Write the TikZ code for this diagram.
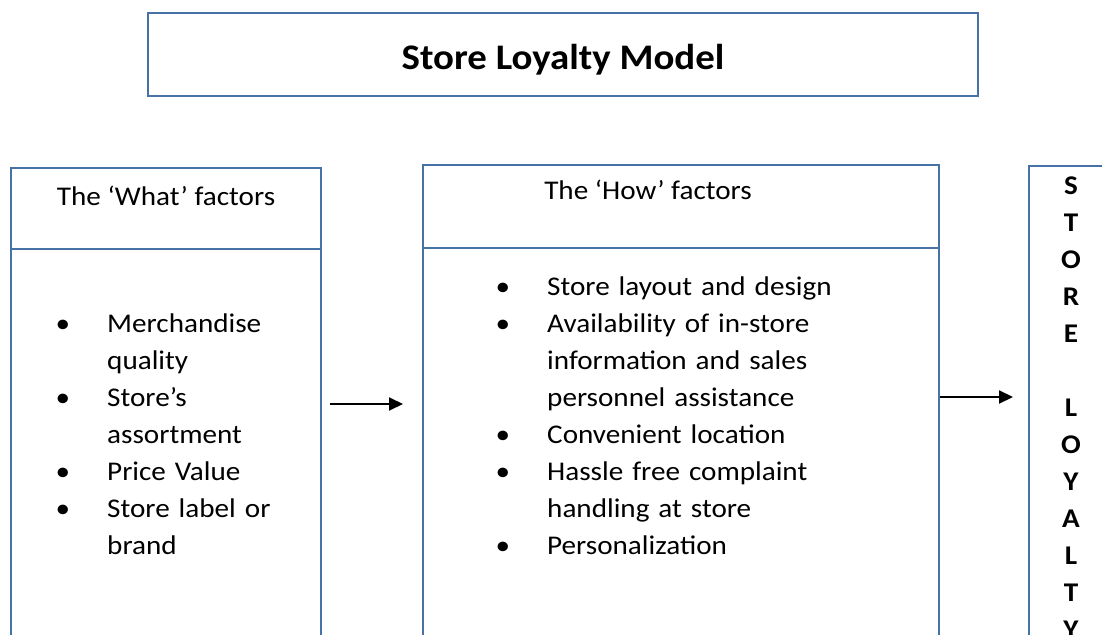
\documentclass[tikz,border=0pt]{standalone}
\usepackage{fontspec}
\setmainfont[FakeStretch=1.08]{Carlito}
\usepackage{enumitem}
\usetikzlibrary{positioning, arrows.meta}

\definecolor{boxblue}{RGB}{70,114,168}

% bullet lists inside the factor boxes
\setlist[itemize]{label=\textbullet, leftmargin=57pt, labelwidth=13pt, labelsep=37pt,
  topsep=0pt, itemsep=0pt, parsep=0pt, partopsep=0pt}

\tikzset{
  box/.style={draw=boxblue, line width=2pt, inner sep=0pt, anchor=north west},
  flow/.style={-{Triangle[length=14pt,width=13pt]}, line width=2pt},
  body/.style={font=\fontsize{27}{37}\selectfont, inner sep=0pt},
}

\begin{document}
\begin{tikzpicture}[x=1pt, y=-1pt]
  \useasboundingbox (0,0) rectangle (1102,634);
  \clip (0,0) rectangle (1102,634);

  % heading
  \node[box, minimum width=830pt, minimum height=83pt] (title) at (147,12) {};
  \node[font=\fontsize{36}{42}\selectfont\bfseries, anchor=base, inner sep=0pt]
    (titletext) at ([yshift=-58pt]title.north) {Store Loyalty Model};

  % the three columns
  \node[box, minimum width=310pt, minimum height=81pt] (whathead) at (10,167) {};
  \node[box, minimum width=310pt, minimum height=450pt] (whatbody) at (10,248) {};
  \node[box, minimum width=516pt, minimum height=83pt] (howhead) at (422,164) {};
  \node[box, minimum width=516pt, minimum height=453pt] (howbody) at (422,247) {};
  \node[box, minimum width=150pt, minimum height=600pt] (loyalty) at (1028,165) {};

  % column headings
  \node[body, anchor=base] (whattitle) at ([yshift=-38pt]whathead.north) {The ‘What’ factors};
  \node[body, anchor=base] (howtitle) at ([xshift=-33pt, yshift=-35pt]howhead.north) {The ‘How’ factors};

  % factor lists
  \node[body, anchor=north west, text width=300pt, align=left] (whatlist) at (50,295) {%
    \begin{itemize}
      \item Merchandise\\quality
      \item Store’s\\assortment
      \item Price Value
      \item Store label or\\brand
    \end{itemize}};
  \node[body, anchor=north west, text width=420pt, align=left] (howlist) at (490,258) {%
    \begin{itemize}
      \item Store layout and design
      \item Availability of in-store\\information and sales\\personnel assistance
      \item Convenient location
      \item Hassle free complaint\\handling at store
      \item Personalization
    \end{itemize}};

  \node[font=\fontsize{27}{37}\selectfont\bfseries, align=center, inner sep=0pt, anchor=north]
    (loyaltext) at (1071,177) {S\\T\\O\\R\\E\\[37pt]L\\O\\Y\\A\\L\\T\\Y};

  % arrows between columns
  \coordinate (leftarrow) at (0,404);
  \coordinate (rightarrow) at (0,397);
  \draw[flow, shorten <=8pt, shorten >=19pt] (whatbody.east |- leftarrow) -- (howbody.west |- leftarrow);
  \draw[flow, shorten >=15pt] (howbody.east |- rightarrow) -- (loyalty.west |- rightarrow);
\end{tikzpicture}
\end{document}
